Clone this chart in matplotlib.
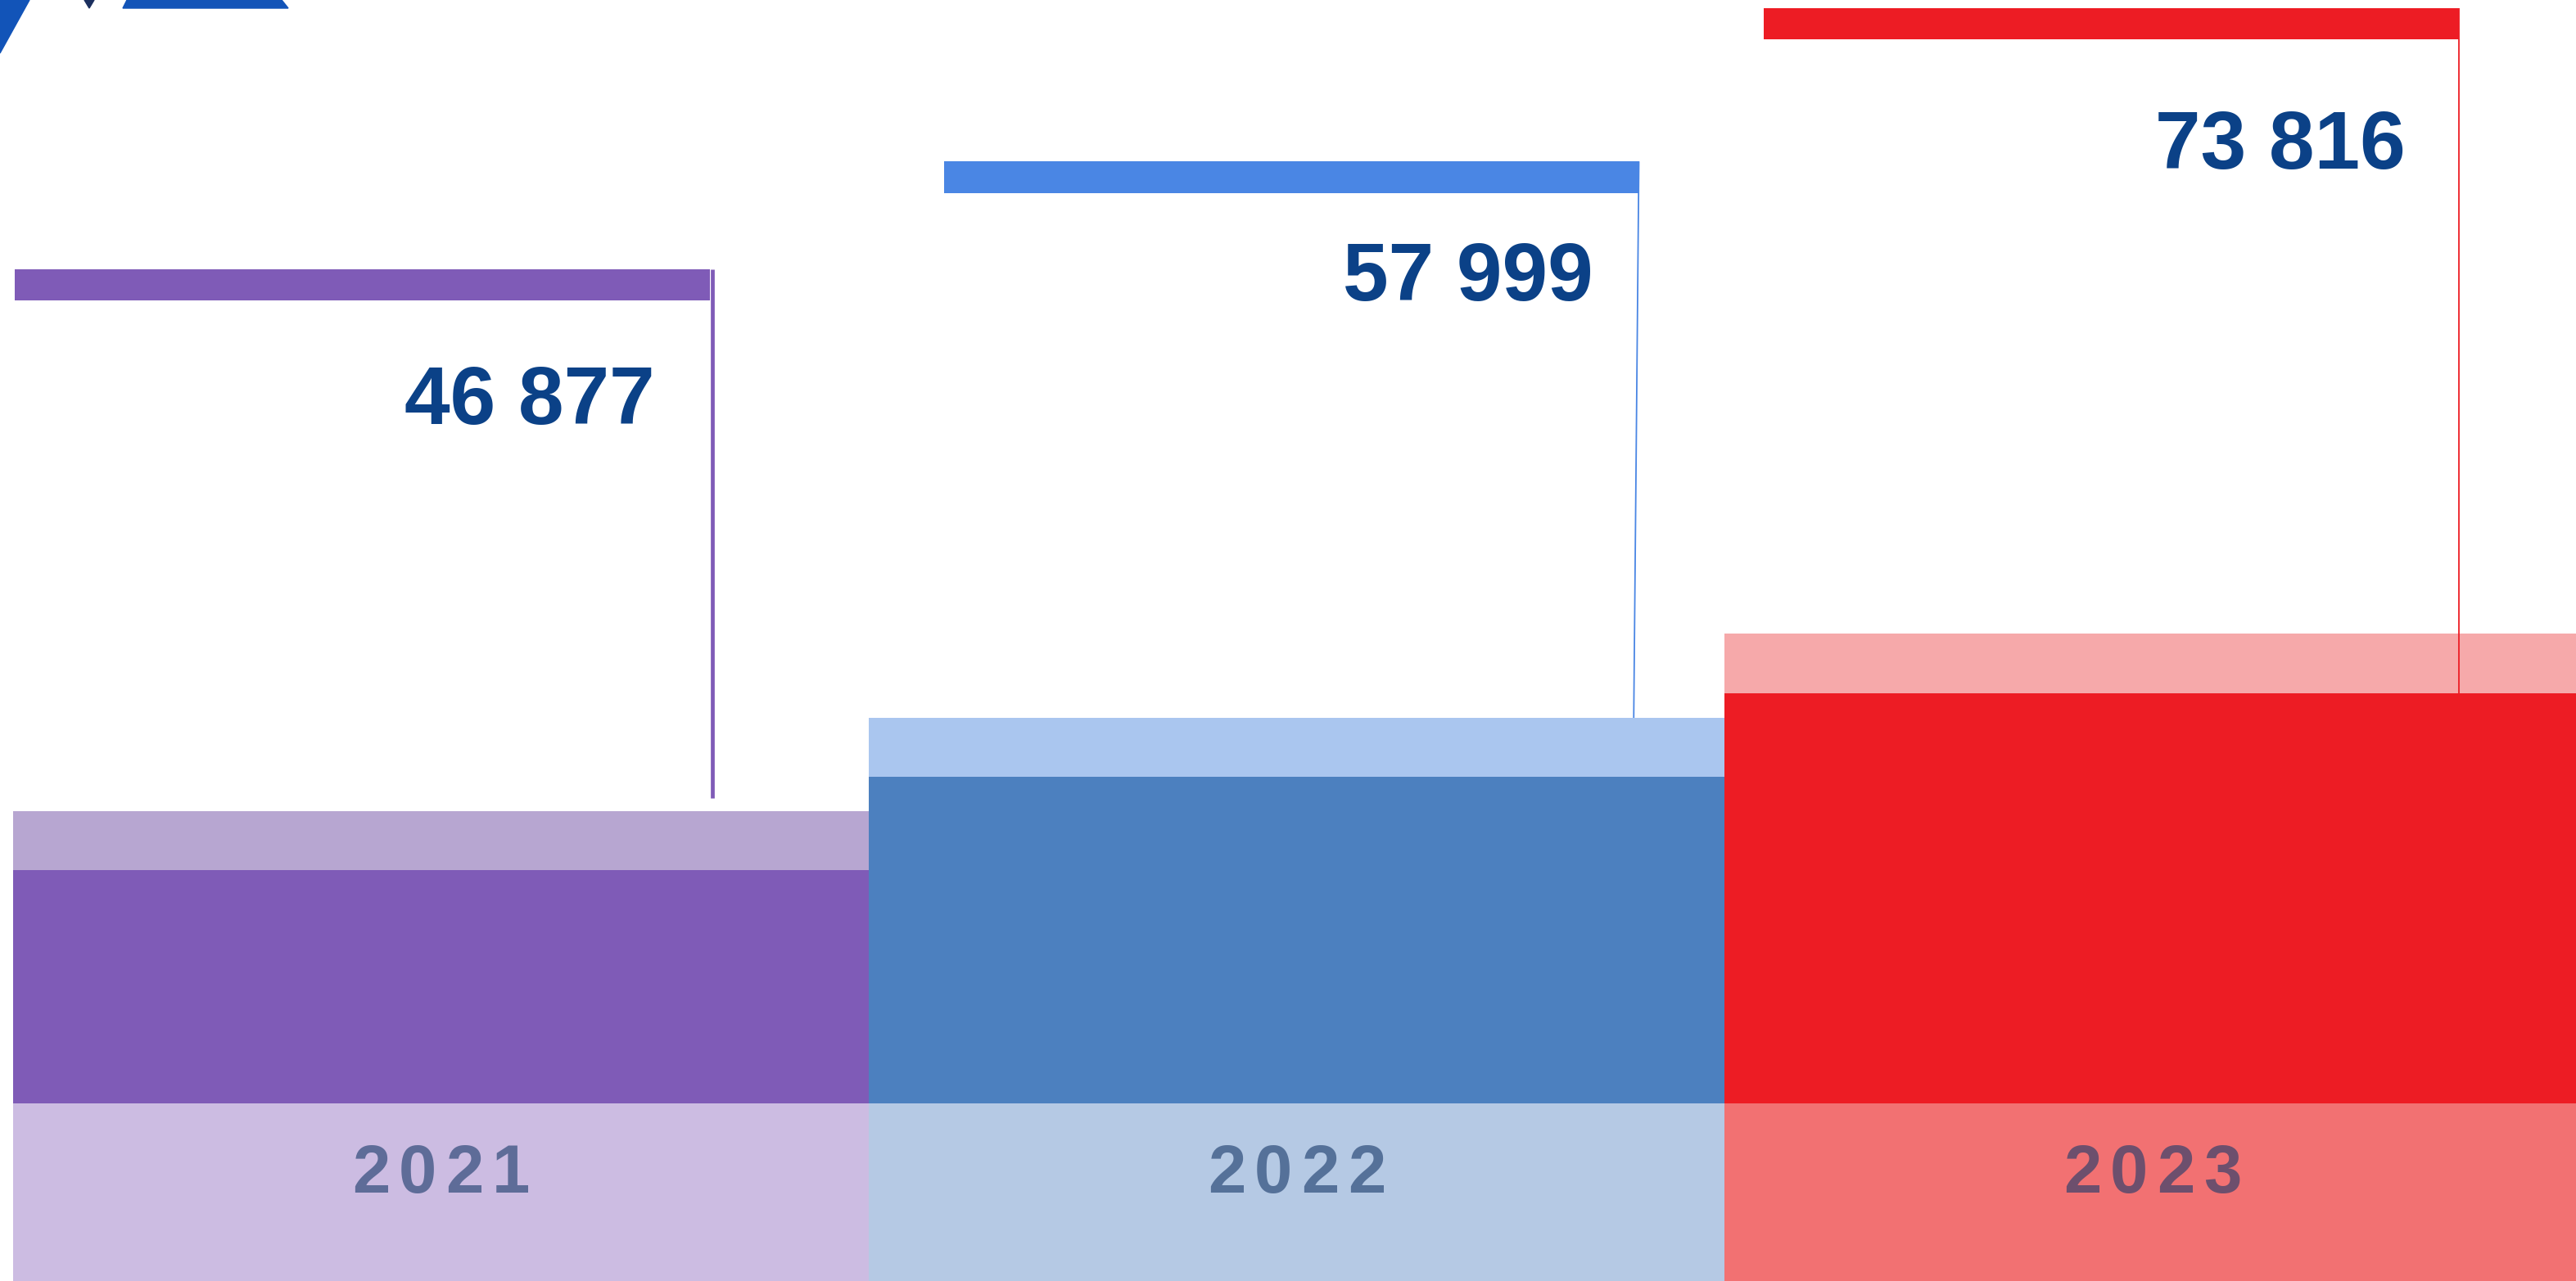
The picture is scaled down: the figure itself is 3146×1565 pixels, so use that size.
import matplotlib
matplotlib.use("Agg")
import matplotlib.pyplot as plt
from matplotlib.patches import Polygon

# -----------------------------
# DATA
# -----------------------------
years = ["2021", "2022", "2023"]
values = [46877, 57999, 73816]

# podium steps (same units as the values)
podium_height = [24070, 33700, 42310]
podium_cap = [6080, 6080, 6160]
leader_bottom = [-7680, 600, 3130]

# -----------------------------
# LAYOUT / STYLE
# -----------------------------
dark_col = ["#7F5BB7", "#4C80BF", "#ED1C24"]
cap_col = ["#B7A6D1", "#AAC6EF", "#F6A9AA"]
band_col = ["#CCBCE2", "#B5C9E4", "#F27172"]
mark_col = ["#7F5BB7", "#4A86E4", "#ED1C24"]
line_w = [3.4, 1.3, 1.3]

mark_start = [0.002, 0.088, 0.046]   # offset inside each column
mark_width = 0.812
mark_thick = 3250
line_dx_top = [0.003, 0.0, 0.0]
line_dx_bot = [0.003, -0.006, 0.0]
label_dx = [0.064, 0.053, 0.062]
label_drop = [16000, 14300, 16550]

BASE = -39200
Y_MIN, Y_MAX = -57500, 74658
X_MIN, X_MAX = -0.0153, 2.9952

NAVY = "#0B4187"
FONT = ["Liberation Sans", "DejaVu Sans"]

fig = plt.figure(figsize=(31.46, 15.65), dpi=100)
ax = fig.add_axes([0, 0, 1, 1])
ax.set_xlim(X_MIN, X_MAX)
ax.set_ylim(Y_MIN, Y_MAX)
ax.axis("off")

for i, (yr, v) in enumerate(zip(years, values)):
    # bottom band with the year
    ax.bar(i, BASE - Y_MIN, bottom=Y_MIN, width=1, align="edge",
           color=band_col[i], linewidth=0)
    # podium block + light cap
    ax.bar(i, podium_height[i], bottom=BASE, width=1, align="edge",
           color=dark_col[i], linewidth=0)
    ax.bar(i, podium_cap[i], bottom=BASE + podium_height[i], width=1,
           align="edge", color=cap_col[i], linewidth=0)

    # value marker at the top
    x0 = i + mark_start[i]
    x1 = x0 + mark_width
    ax.bar(x0, mark_thick, bottom=v - mark_thick, width=mark_width,
           align="edge", color=mark_col[i], linewidth=0, zorder=3)
    ax.plot([x1 + line_dx_top[i], x1 + line_dx_bot[i]], [v, leader_bottom[i]],
            color=mark_col[i], lw=line_w[i], solid_capstyle="butt", zorder=3)

    ax.text(x1 - label_dx[i], v - label_drop[i], f"{v:,}".replace(",", " "),
            ha="right", va="baseline", fontsize=72, fontweight="bold",
            color=NAVY, family=FONT, zorder=4)

    # year label, letter-spaced
    for k, ch in enumerate(yr):
        ax.annotate(ch, (i + 0.5, -46500), xytext=((k - 1.5) * 41.0, 0),
                    textcoords="offset points", ha="center", va="center",
                    fontsize=60, fontweight="bold", color="#1B3B6B",
                    alpha=0.62, family=FONT)

# logo fragment in the top-left corner (figure pixels)
W, H = 3146, 1565
def px(pts):
    return [(x / W, 1 - y / H) for x, y in pts]

fig.add_artist(Polygon(px([(0, 0), (36, 0), (0, 65)]), closed=True,
                       color="#1254B8", transform=fig.transFigure))
fig.add_artist(Polygon(px([(103, 0), (115, 0), (109, 10)]), closed=True,
                       color="#1B2F5E", transform=fig.transFigure))
fig.add_artist(Polygon(px([(155, 0), (344, 0), (352, 10), (150, 10)]),
                       closed=True, color="#1254B8", transform=fig.transFigure))

fig.savefig("out.png", dpi=100, facecolor="white")
